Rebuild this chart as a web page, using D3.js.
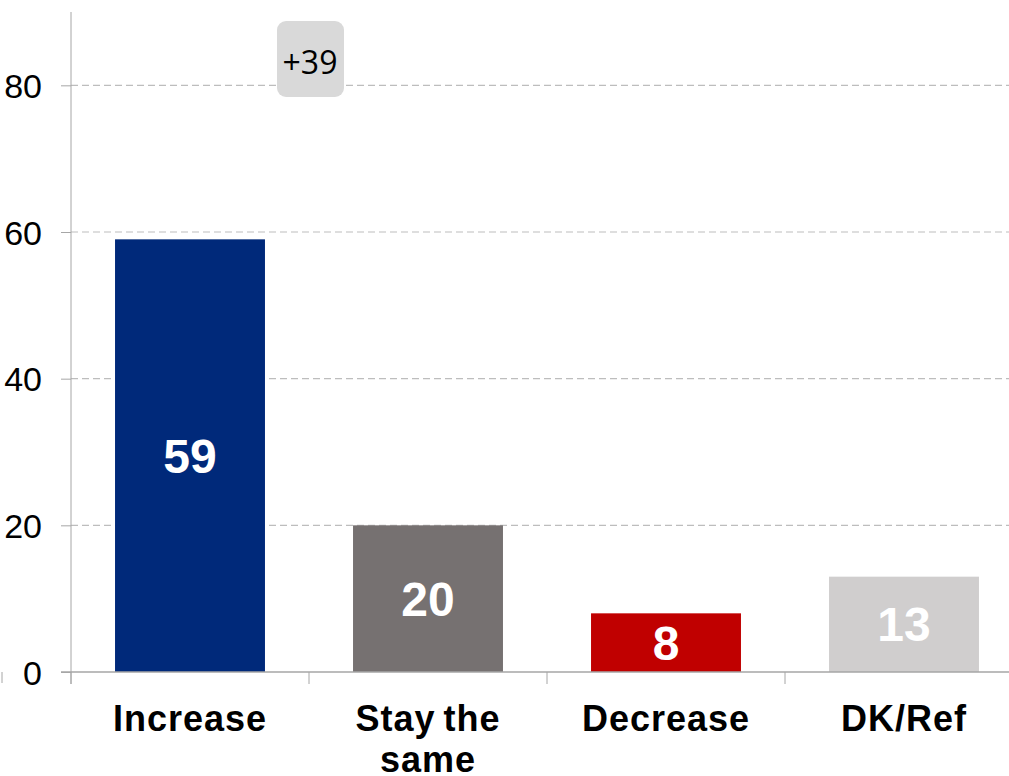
<!DOCTYPE html>
<meta charset="utf-8">
<head>
  <title>Increase / Stay the same / Decrease</title>
</head>
<script src="https://d3js.org/d3.v7.min.js"></script>
<style>
  body { margin: 0; background: #fff; }
  text { font-family: "Liberation Sans", Arial, sans-serif; }
</style>
<div id="chart"></div>
<script>

  // data
  var categories = ["Increase", "Stay the same", "Decrease", "DK/Ref"];
  var catLines = [["Increase"], ["Stay the", "same"], ["Decrease"], ["DK/Ref"]];
  var values = [59, 20, 8, 13];
  var barColors = ["#00297a", "#767171", "#c00000", "#d0cece"];
  var yTicks = [0, 20, 40, 60, 80];
  var netLabel = "+39";

  // set the dimensions of the plot area
  var W = 1009, H = 776;
  var margin = {left: 71, top: 12, bottom: 672};

  var svg = d3.select("#chart")
    .append("svg")
      .attr("width", W)
      .attr("height", H);

  var y = d3.scaleLinear()
    .domain([0, 90])
    .range([margin.bottom, margin.top]);

  var x = d3.scaleBand()
    .domain(categories)
    .range([margin.left, margin.left + 4 * 238])
    .paddingInner(0.37)
    .paddingOuter(0.185);

  // gridlines
  svg.append("g")
    .selectAll("line")
    .data(yTicks.filter(function(d) { return d > 0; }))
    .enter().append("line")
      .attr("x1", margin.left).attr("x2", W)
      .attr("y1", function(d) { return y(d); })
      .attr("y2", function(d) { return y(d); })
      .attr("stroke", "#bdbdbd")
      .attr("stroke-width", 1.2)
      .attr("stroke-dasharray", "7,4");

  // bars
  svg.append("g")
    .selectAll("rect")
    .data(values)
    .enter().append("rect")
      .attr("x", function(d, i) { return x(categories[i]); })
      .attr("y", function(d) { return y(d); })
      .attr("width", x.bandwidth())
      .attr("height", function(d) { return y(0) - y(d); })
      .attr("fill", function(d, i) { return barColors[i]; });

  // value labels inside bars
  svg.append("g")
    .selectAll("text")
    .data(values)
    .enter().append("text")
      .attr("x", function(d, i) { return x(categories[i]) + x.bandwidth() / 2; })
      .attr("y", function(d) { return (y(d) + y(0)) / 2 + 17; })
      .attr("text-anchor", "middle")
      .style("font-size", "48px")
      .style("font-weight", "bold")
      .attr("fill", "#fff")
      .text(function(d) { return d; });

  // y axis
  var yAxis = svg.append("g")
    .attr("transform", "translate(" + margin.left + ",0)")
    .call(d3.axisLeft(y).tickValues(yTicks).tickSize(10).tickPadding(19));
  yAxis.select(".domain").remove();
  yAxis.selectAll("line").attr("stroke", "#a6a6a6");
  yAxis.selectAll("text")
    .style("font-family", "'Liberation Sans', Arial, sans-serif")
    .style("font-size", "34px")
    .attr("fill", "#000")
    .attr("dy", "0.36em");
  svg.append("line")
    .attr("x1", margin.left).attr("x2", margin.left)
    .attr("y1", margin.top).attr("y2", margin.bottom + 12)
    .attr("stroke", "#a6a6a6");

  // x axis line and category ticks
  svg.append("line")
    .attr("x1", margin.left - 10).attr("x2", W)
    .attr("y1", margin.bottom).attr("y2", margin.bottom)
    .attr("stroke", "#a6a6a6")
    .attr("stroke-width", 1.5);
  var bounds = d3.range(5).map(function(i) { return margin.left + i * x.step(); });
  svg.append("g")
    .selectAll("line")
    .data(bounds)
    .enter().append("line")
      .attr("x1", function(d) { return d; })
      .attr("x2", function(d) { return d; })
      .attr("y1", margin.bottom).attr("y2", margin.bottom + 12)
      .attr("stroke", "#a6a6a6");
  // stray tick at far left edge
  svg.append("line")
    .attr("x1", 2).attr("x2", 2)
    .attr("y1", margin.bottom).attr("y2", margin.bottom + 11)
    .attr("stroke", "#a6a6a6");

  // category labels
  var cat = svg.append("g")
    .selectAll("text")
    .data(categories)
    .enter().append("text")
      .attr("x", function(d) { return x(d) + x.bandwidth() / 2; })
      .attr("y", 731)
      .attr("text-anchor", "middle")
      .style("font-size", "36px")
      .style("font-weight", "bold")
      .style("letter-spacing", "1px")
      .style("word-spacing", "-3px")
      .attr("fill", "#000");
  cat.selectAll("tspan")
    .data(function(d, i) { return catLines[i]; })
    .enter().append("tspan")
      .attr("x", function() { return d3.select(this.parentNode).attr("x"); })
      .attr("dy", function(d, i) { return i === 0 ? 0 : 41; })
      .text(function(d) { return d; });

  // net difference box
  svg.append("rect")
    .attr("x", 277).attr("y", 21)
    .attr("width", 67).attr("height", 76)
    .attr("rx", 9)
    .attr("fill", "#d9d9d9");
  svg.append("text")
    .attr("x", 310).attr("y", 74)
    .attr("text-anchor", "middle")
    .style("font-family", "'Open Sans', 'Noto Sans', sans-serif")
    .style("font-size", "32px")
    .attr("fill", "#000")
    .text(netLabel);

</script>
